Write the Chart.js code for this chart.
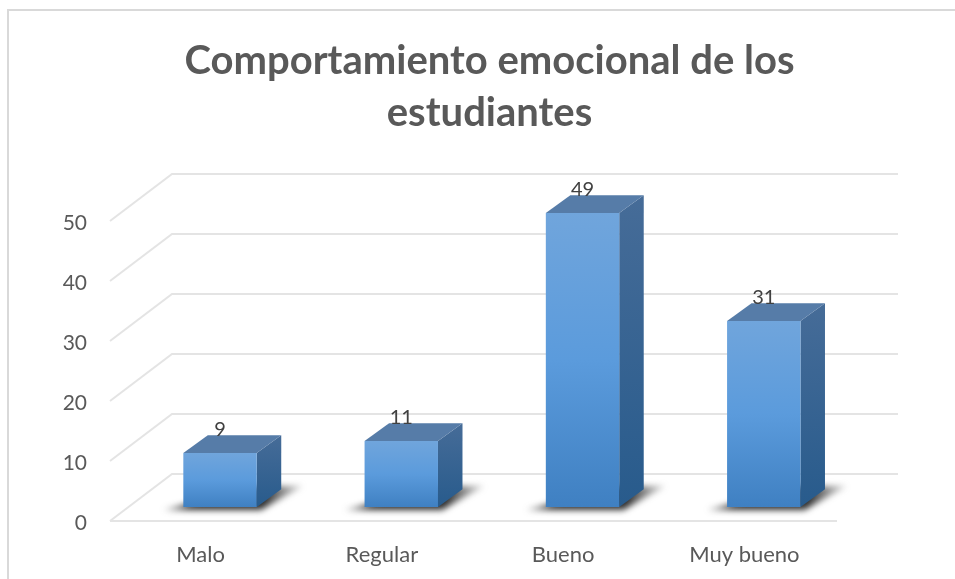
<!DOCTYPE html>
<html><head><meta charset="utf-8">
<style>html,body{margin:0;padding:0;background:#fff;overflow:hidden}#w{position:relative;width:955px;height:579px}</style>
<script src="https://cdn.jsdelivr.net/npm/chart.js@4/dist/chart.umd.min.js"></script>
</head><body><div id="w"><canvas id="c" width="955" height="579"></canvas></div>
<script>
const categories = ['Malo','Regular','Bueno','Muy bueno'];
const values = [9,11,49,31];
const titleLines = ['Comportamiento emocional de los','estudiantes'];
const yTicks = [0,10,20,30,40,50];

const DEPTH_X=62, DEPTH_Y=47;      // wall depth
const BAR_DX=19.4, BAR_DY=14;      // bars sit inside the floor
const SIDE_X=24.5, SIDE_Y=17.7;    // bar depth
const GRID='#e4e4e4';

const scene = {
  id:'scene',
  beforeDraw(ch){
    const {ctx,scales:{y},chartArea:a}=ch;
    ctx.save();
    ctx.fillStyle='#fff';ctx.fillRect(0,0,ch.width,ch.height);
    ctx.strokeStyle='#d9d9d9';ctx.lineWidth=2;
    ctx.beginPath();ctx.moveTo(8,579);ctx.lineTo(8,10);ctx.lineTo(955,10);ctx.stroke();
    ctx.strokeStyle=GRID;ctx.lineWidth=2;
    yTicks.forEach(v=>{
      const p=y.getPixelForValue(v);
      ctx.beginPath();ctx.moveTo(a.left,p);ctx.lineTo(a.left+DEPTH_X,p-DEPTH_Y);
      ctx.lineTo(a.right+DEPTH_X+1,p-DEPTH_Y);ctx.stroke();
    });
    const p0=y.getPixelForValue(0);
    ctx.beginPath();ctx.moveTo(a.left,p0);ctx.lineTo(a.right+2,p0);ctx.stroke();
    ctx.restore();
  },
  beforeDatasetDraw(ch,args){
    const {ctx}=ch;
    ctx.save();
    ctx.translate(BAR_DX,-BAR_DY);
    ch.getDatasetMeta(args.index).data.forEach(b=>{
      const l=b.x-b.width/2,r=b.x+b.width/2,t=b.y,bo=b.base;
      ctx.save();
      ctx.filter='blur(3px)';
      const sg=ctx.createLinearGradient(l-24,0,r+48,0);
      sg.addColorStop(0,'rgba(70,70,70,.35)');sg.addColorStop(.2,'rgba(35,35,35,.95)');
      sg.addColorStop(.72,'rgba(35,35,35,.95)');sg.addColorStop(1,'rgba(110,110,110,.25)');
      ctx.fillStyle=sg;
      ctx.beginPath();ctx.moveTo(l-20,bo+3);ctx.lineTo(r+4,bo+3);ctx.lineTo(r+46,bo-21);ctx.lineTo(r,bo-21);ctx.closePath();ctx.fill();
      ctx.restore();
      const g=ctx.createLinearGradient(0,t-SIDE_Y,0,bo);
      g.addColorStop(0,'#466c98');g.addColorStop(1,'#285b8c');
      ctx.fillStyle=g;
      ctx.beginPath();ctx.moveTo(r,t);ctx.lineTo(r+SIDE_X,t-SIDE_Y);ctx.lineTo(r+SIDE_X,bo-SIDE_Y);ctx.lineTo(r,bo);ctx.closePath();ctx.fill();
      ctx.fillStyle='#567ca8';
      ctx.beginPath();ctx.moveTo(l,t);ctx.lineTo(l+SIDE_X,t-SIDE_Y);ctx.lineTo(r+SIDE_X,t-SIDE_Y);ctx.lineTo(r,t);ctx.closePath();ctx.fill();
    });
  },
  afterDatasetDraw(ch,args){
    const {ctx}=ch;
    ctx.font='20px Lato';ctx.fillStyle='#404040';ctx.textAlign='center';ctx.textBaseline='middle';
    ch.getDatasetMeta(args.index).data.forEach((b,i)=>{
      ctx.fillText(String(values[i]),b.x,b.y-23);
    });
    ctx.restore();
  }
};

function frontFace(c){
  const ch=c.chart,y=ch.scales.y;
  if(!y||c.dataIndex===undefined) return '#5b9bd5';
  const t=y.getPixelForValue(values[c.dataIndex]),b=y.getPixelForValue(0);
  if(!isFinite(t)||!isFinite(b)) return '#5b9bd5';
  const f=ch.ctx.createLinearGradient(0,t,0,b);
  f.addColorStop(0,'#70a5dc');f.addColorStop(.5,'#5b9bdc');f.addColorStop(1,'#3f80c2');
  return f;
}

new Chart(document.getElementById('c'),{
  type:'bar',
  data:{labels:categories,datasets:[{data:values,backgroundColor:frontFace,borderWidth:0,barPercentage:1,categoryPercentage:0.405}]},
  plugins:[scene],
  options:{
    responsive:false,animation:false,
    layout:{padding:{left:24,right:0,top:0,bottom:0}},
    plugins:{
      legend:{display:false},tooltip:{enabled:false},
      title:{display:true,text:titleLines,color:'#595959',font:{family:'Lato',size:40,weight:'bold',lineHeight:1.3},
             padding:{top:35,bottom:82}}
    },
    scales:{
      x:{grid:{display:false,drawTicks:false},border:{display:false},
         ticks:{color:'#595959',font:{family:'Lato',size:22},padding:21,maxRotation:0},
         afterFit(s){s.height=58;}},
      y:{min:0,max:50,grid:{display:false,drawTicks:false},border:{display:false},
         ticks:{stepSize:10,color:'#595959',font:{family:'Lato',size:21},padding:23,labelOffset:2},
         afterFit(s){s.width=86;}},
      y2:{position:'right',display:true,min:0,max:50,grid:{display:false,drawTicks:false},border:{display:false},
         ticks:{display:false},afterFit(s){s.width=120;}}
    }
  }
});
</script></body></html>
